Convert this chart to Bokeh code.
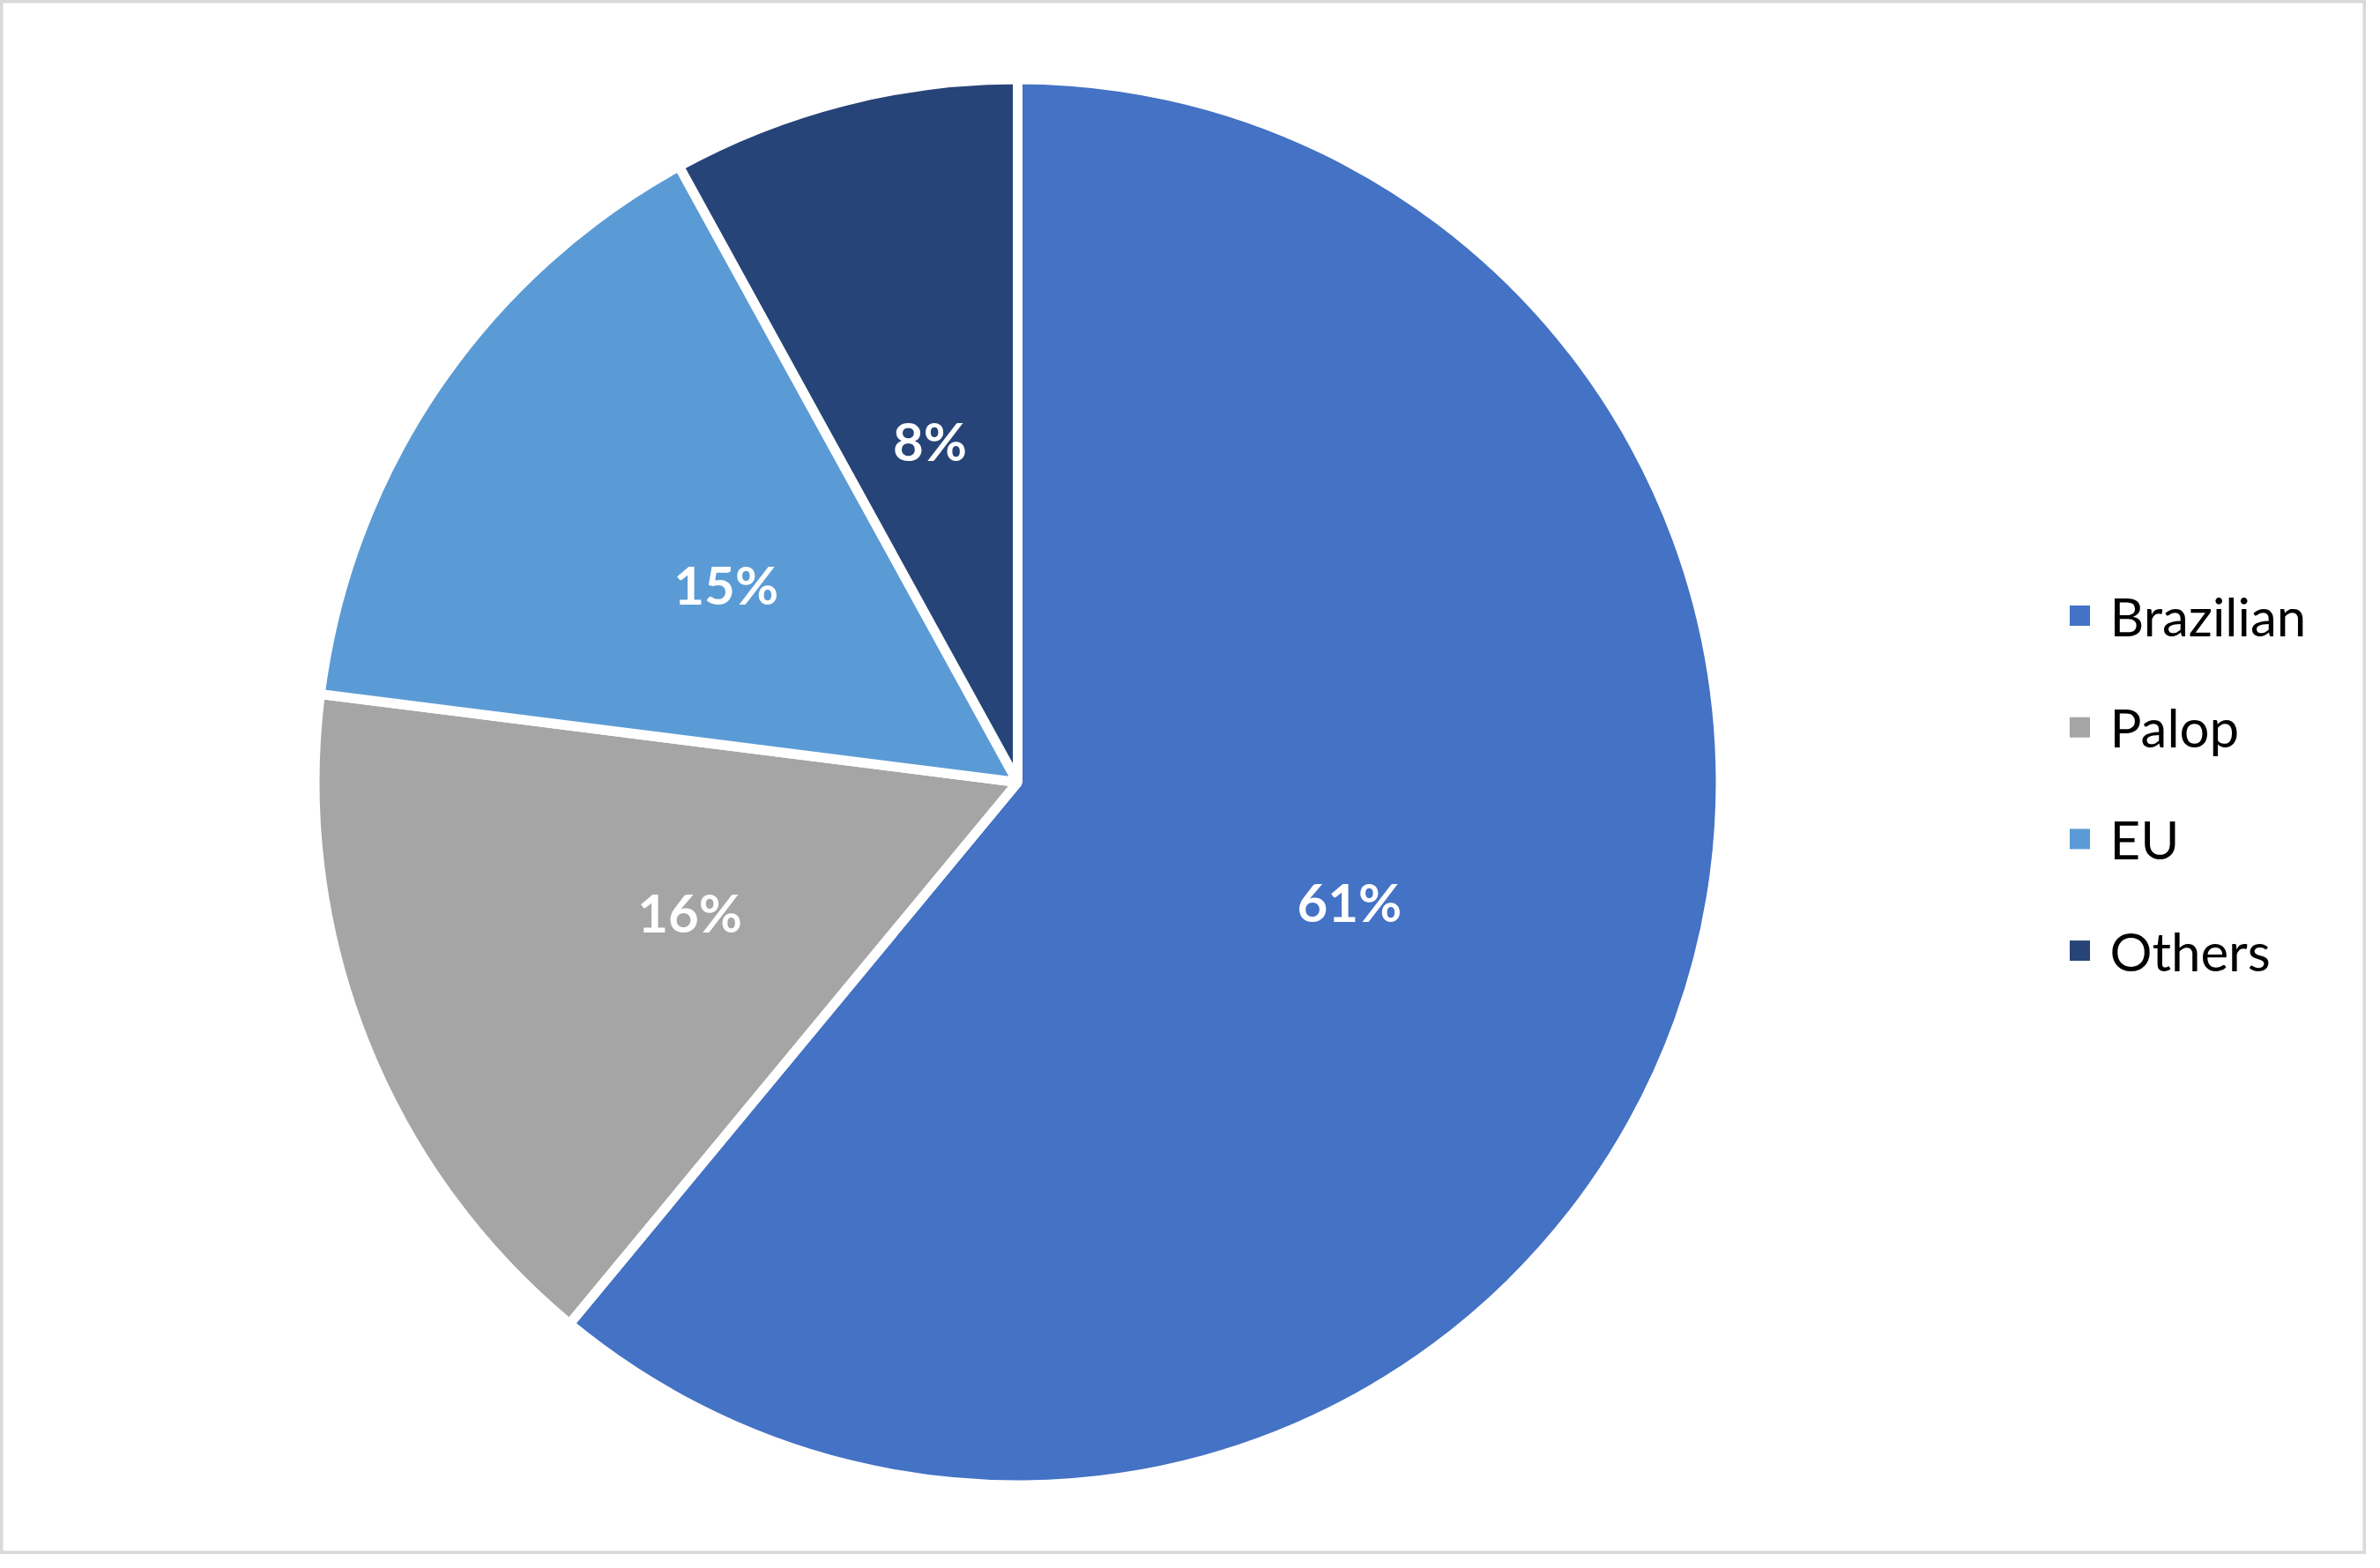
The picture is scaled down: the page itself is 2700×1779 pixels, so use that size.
import numpy as np
from bokeh.plotting import figure
from bokeh.models import Range1d, ColumnDataSource
from bokeh.core.properties import value
from bokeh.embed import file_html
from bokeh.resources import INLINE

# ---- data ----
categories = ["Brazilian", "Palop", "EU", "Others"]
shares = [61, 16, 15, 8]
labels = ["61%", "16%", "15%", "8%"]
colors = ["#4472C4", "#A5A5A5", "#5B9BD5", "#264478"]

# ---- layout (reference pixel coordinates, y up) ----
W, H = 2700, 1779
FW, FH = W - 16, H - 16
cx, cy = 1154, H - 887
R = 792

frac = np.array(shares, dtype=float) / sum(shares)
cum = np.concatenate([[0.0], np.cumsum(frac)])
start = np.pi / 2 - 2 * np.pi * cum[:-1]
end = np.pi / 2 - 2 * np.pi * cum[1:]
mid = (start + end) / 2
lr = 0.505 * R

src = ColumnDataSource(dict(
    cat=categories, start=start, end=end, color=colors, label=labels,
    lx=cx + lr * np.cos(mid), ly=cy + lr * np.sin(mid),
))

p = figure(width=FW, height=FH, output_backend="svg", toolbar_location=None,
           x_range=Range1d(0, FW), y_range=Range1d(H - FH, H),
           min_border=0, min_border_left=0, min_border_right=0,
           min_border_top=0, min_border_bottom=0)
p.axis.visible = False
p.grid.visible = False
p.outline_line_color = "#D9D9D9"
p.outline_line_width = 6
p.background_fill_color = "white"
p.border_fill_color = "white"

p.wedge(x=cx, y=cy, radius=R + 5.5, start_angle="start", end_angle="end",
        direction="clock", fill_color="color", line_color="white", line_width=11,
        source=src)

p.text(x="lx", y="ly", text="label", source=src, text_color="white",
       text_font=value("Lato"), text_font_style="bold", text_font_size="60px",
       text_align="center", text_baseline="middle")

# legend
leg_x = 2359
leg_y0 = H - 698
leg_dy = 126.7
leg_y = [leg_y0 - i * leg_dy for i in range(len(categories))]
p.scatter(x=[leg_x] * len(categories), y=leg_y, marker="square", size=23,
          fill_color=colors, line_color=None)
p.text(x=[2393] * len(categories), y=leg_y, text=categories, text_color="black",
       text_font=value("Lato"), text_font_size="60px",
       text_align="left", text_baseline="middle")

open("out.html", "w").write(file_html(p, INLINE))
